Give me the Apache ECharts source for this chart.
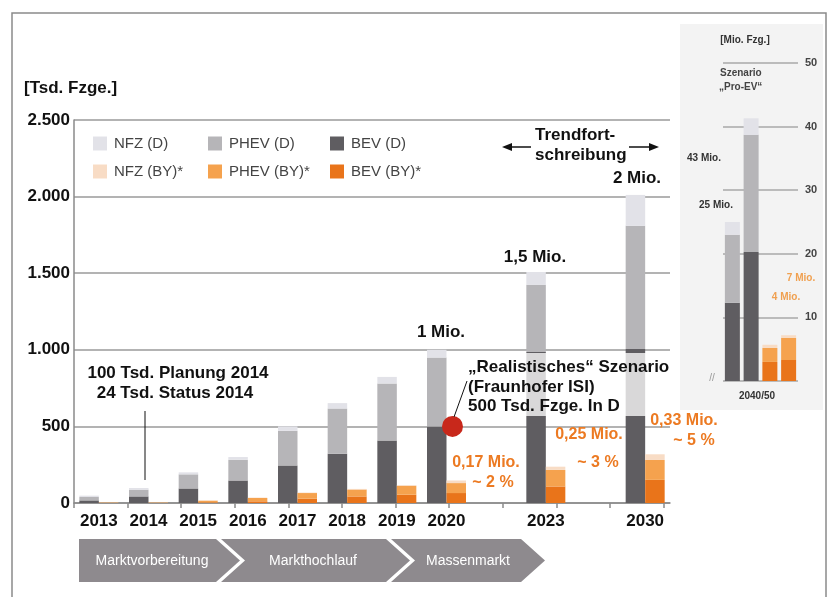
<!DOCTYPE html>
<html>
<head>
<meta charset="utf-8">
<script src="https://cdn.jsdelivr.net/npm/echarts@6/dist/echarts.min.js"></script>
<style>
  html, body { margin: 0; padding: 0; background: #fff; }
  #chart { width: 832px; height: 597px; }
</style>
</head>
<body>
<div id="chart"></div>
<script>
  // Bestand in Tsd. Fahrzeuge, D = Deutschland, BY = Bayern
  const years = ["2013", "2014", "2015", "2016", "2017", "2018", "2019", "2020", "", "2023", "", "2030"];
  const bevD = [17, 43, 95, 147, 245, 322, 408, 500, null, 985, null, 1005];
  const phevD = [22, 44, 92, 135, 226, 295, 372, 449, null, 439, null, 804];
  const nfzD = [9, 11, 13, 18, 29, 35, 43, 51, null, 84, null, 202];
  const bevBY = [0, 0, 4, 11, 28, 43, 54, 65, null, 108, null, 151];
  const phevBY = [3, 3, 11, 22, 37, 45, 58, 65, null, 108, null, 130];
  const nfzBY = [1, 1, 3, 2, 3, 4, 5, 17, null, 21, null, 37];
  const yTicks = [0, 500, 1000, 1500, 2000, 2500];

  // Szenario "Pro-EV" 2040/50, Mio. Fahrzeuge
  const insetCats = ["D1", "D2", "BY1", "BY2"];
  const insetBevD = [12.3, 20.3, null, null];
  const insetPhevD = [10.7, 18.4, null, null];
  const insetNfzD = [2, 2.6, null, null];
  const insetBevBY = [null, null, 3, 3.3];
  const insetPhevBY = [null, null, 2.2, 3.5];
  const insetNfzBY = [null, null, 0.5, 0.4];

  const colors = {
    nfzD: "#e2e2e8", phevD: "#b6b5b8", bevD: "#5f5d61",
    nfzBY: "#f8dcc5", phevBY: "#f5a24e", bevBY: "#e9741a"
  };
  const FONT = "Liberation Sans, Arial, Helvetica, sans-serif";
  const orange = "#ec7a22";

  const chart = echarts.init(document.getElementById("chart"));

  function fmt(v) {
    if (v >= 1000) return Math.floor(v / 1000) + "." + String(v % 1000).padStart(3, "0");
    return String(v);
  }

  function txt(x, y, s, size, color, opts) {
    opts = opts || {};
    return {
      type: "text", x: x, y: y, z: 100,
      style: {
        text: s,
        font: (opts.weight || "bold") + " " + size + "px " + FONT,
        fill: color,
        textAlign: opts.align || "left",
        textVerticalAlign: "middle"
      }
    };
  }

  function bar(name, data, stack, color) {
    return {
      name: name, type: "bar", stack: stack, data: data,
      barWidth: 19.5, barGap: "0%",
      itemStyle: { color: color },
      emphasis: { disabled: true }
    };
  }

  function insetBar(name, data, color) {
    return {
      name: name, type: "bar", stack: "inset", data: data,
      xAxisIndex: 2, yAxisIndex: 1, barWidth: 15,
      itemStyle: { color: color },
      emphasis: { disabled: true }
    };
  }

  function legendCol(left, names) {
    return {
      orient: "vertical", left: left, top: 131,
      itemWidth: 14, itemHeight: 14, itemGap: 13,
      icon: "rect", selectedMode: false,
      data: names,
      textStyle: { fontSize: 15, fontFamily: FONT, color: "#444", lineHeight: 14, padding: [0, 0, 0, 2] }
    };
  }

  const chevron = (pts, label, cx) => [
    { type: "polygon", z: 50, shape: { points: pts }, style: { fill: "#8e8a8e" } },
    txt(cx, 561, label, 14, "#fff", { weight: "normal", align: "center" })
  ];

  const option = {
    backgroundColor: "#fff",
    animation: false,
    legend: [
      legendCol(88, ["NFZ (D)", "NFZ (BY)*"]),
      legendCol(203, ["PHEV (D)", "PHEV (BY)*"]),
      legendCol(325, ["BEV (D)", "BEV (BY)*"])
    ],
    grid: [
      { left: 74, right: 162, top: 120, bottom: 94 },
      { left: 723, right: 34, top: 63, bottom: 216 }
    ],
    xAxis: [
      {
        type: "category", gridIndex: 0, data: years,
        axisLine: { lineStyle: { color: "#8a8a8a", width: 1.5 } },
        axisTick: { show: false },
        axisLabel: { margin: 10, fontSize: 17, fontWeight: "bold", fontFamily: FONT, color: "#111", interval: 0 }
      },
      {
        type: "value", gridIndex: 0, min: 0, max: 11.12, interval: 1, position: "bottom",
        axisLine: { show: false }, axisLabel: { show: false }, splitLine: { show: false },
        axisTick: {
          show: true, length: 5, customValues: [0, 1, 2, 3, 4, 5, 6, 7, 8, 9, 10, 11],
          lineStyle: { color: "#8a8a8a", width: 1.5 }
        }
      },
      {
        type: "category", gridIndex: 1, data: insetCats,
        axisLine: { show: false }, axisTick: { show: false }, axisLabel: { show: false }
      }
    ],
    yAxis: [
      {
        type: "value", gridIndex: 0, min: 0, max: 2500, interval: 500,
        axisLine: { show: true, lineStyle: { color: "#8a8a8a", width: 1.5 } },
        splitLine: { lineStyle: { color: "#9a9a9a", width: 1.5 } },
        axisTick: { show: false },
        axisLabel: { margin: 4, fontSize: 17, fontWeight: "bold", fontFamily: FONT, color: "#111", formatter: fmt,
          customValues: yTicks }
      },
      {
        type: "value", gridIndex: 1, min: 0, max: 50, interval: 10, position: "right",
        axisLine: { show: false }, axisTick: { show: false },
        splitLine: { lineStyle: { color: "#a8a8a8", width: 1.5 } },
        axisLabel: { margin: 7, fontSize: 11, fontWeight: "bold", fontFamily: FONT, color: "#444",
          formatter: v => (v === 0 ? "" : v) }
      }
    ],
    series: [
      bar("BEV (D)", bevD, "D", colors.bevD),
      bar("PHEV (D)", phevD, "D", colors.phevD),
      bar("NFZ (D)", nfzD, "D", colors.nfzD),
      bar("BEV (BY)*", bevBY, "BY", colors.bevBY),
      bar("PHEV (BY)*", phevBY, "BY", colors.phevBY),
      bar("NFZ (BY)*", nfzBY, "BY", colors.nfzBY),
      {
        name: "Realistisch", type: "scatter", data: [[7, 500]],
        symbolSize: 21, symbolOffset: [6, 0], z: 20,
        itemStyle: { color: "#c8281b", opacity: 1 },
        emphasis: { disabled: true }
      },
      insetBar("i-BEV (D)", insetBevD, colors.bevD),
      insetBar("i-PHEV (D)", insetPhevD, colors.phevD),
      insetBar("i-NFZ (D)", insetNfzD, colors.nfzD),
      insetBar("i-BEV (BY)", insetBevBY, colors.bevBY),
      insetBar("i-PHEV (BY)", insetPhevBY, colors.phevBY),
      insetBar("i-NFZ (BY)", insetNfzBY, colors.nfzBY)
    ],
    graphic: [
      // inset background + frame
      { type: "rect", z: -10, shape: { x: 680, y: 24, width: 143, height: 386 }, style: { fill: "#f3f3f3" } },
      { type: "rect", z: 100, shape: { x: 12, y: 13, width: 814, height: 620 }, style: { fill: "none", stroke: "#8a8a8a", lineWidth: 1.5 } },

      txt(24, 88, "[Tsd. Fzge.]", 17, "#111"),

      // white veil behind scenario text
      { type: "rect", z: 30, shape: { x: 462, y: 353, width: 212, height: 63 }, style: { fill: "rgba(255,255,255,0.76)" } },
      txt(468, 367, "\u201eRealistisches\u201c Szenario", 17, "#111"),
      txt(468, 387, "(Fraunhofer ISI)", 17, "#111"),
      txt(468, 406, "500 Tsd. Fzge. In D", 17, "#111"),
      { type: "line", z: 100, shape: { x1: 454, y1: 417, x2: 467, y2: 381 }, style: { stroke: "#111", lineWidth: 1 } },

      // 2014 note
      txt(178, 373, "100 Tsd. Planung 2014", 17, "#111", { align: "center" }),
      txt(175, 393, "24 Tsd. Status 2014", 17, "#111", { align: "center" }),
      { type: "line", z: 100, shape: { x1: 145, y1: 411, x2: 145, y2: 480 }, style: { stroke: "#111", lineWidth: 1 } },

      // totals
      txt(441, 332, "1 Mio.", 17, "#111", { align: "center" }),
      txt(535, 257, "1,5 Mio.", 17, "#111", { align: "center" }),
      txt(637, 178, "2 Mio.", 17, "#111", { align: "center" }),

      // trend arrow
      txt(535, 135, "Trendfort-", 17, "#111"),
      txt(535, 155, "schreibung", 17, "#111"),
      { type: "line", z: 100, shape: { x1: 508, y1: 147, x2: 531, y2: 147 }, style: { stroke: "#111", lineWidth: 1.5 } },
      { type: "line", z: 100, shape: { x1: 629, y1: 147, x2: 653, y2: 147 }, style: { stroke: "#111", lineWidth: 1.5 } },
      { type: "polygon", z: 100, shape: { points: [[502, 147], [512, 143], [512, 151]] }, style: { fill: "#111" } },
      { type: "polygon", z: 100, shape: { points: [[659, 147], [649, 143], [649, 151]] }, style: { fill: "#111" } },

      // orange shares
      txt(486, 463, "0,17 Mio.", 16, orange, { align: "center" }),
      txt(493, 483, "~ 2 %", 16, orange, { align: "center" }),
      txt(589, 435, "0,25 Mio.", 16, orange, { align: "center" }),
      txt(598, 463, "~ 3 %", 16, orange, { align: "center" }),
      txt(684, 421, "0,33 Mio.", 16, orange, { align: "center" }),
      txt(694, 441, "~ 5 %", 16, orange, { align: "center" }),

      // inset texts
      txt(745, 40, "[Mio. Fzg.]", 10, "#333", { align: "center" }),
      txt(720, 73, "Szenario", 10, "#444"),
      txt(719, 87, "\u201ePro-EV\u201c", 10, "#444"),
      txt(704, 158, "43 Mio.", 10, "#333", { align: "center" }),
      txt(716, 205, "25 Mio.", 10, "#333", { align: "center" }),
      txt(801, 278, "7 Mio.", 10, "#f0a050", { align: "center" }),
      txt(786, 297, "4 Mio.", 10, "#f0a050", { align: "center" }),
      txt(757, 396, "2040/50", 10, "#333", { align: "center" }),
      txt(712, 378, "//", 10, "#999", { align: "center", weight: "normal" }),

      // phases
      ...chevron([[79, 539], [216, 539], [240, 560.5], [216, 582], [79, 582]], "Marktvorbereitung", 152),
      ...chevron([[221, 539], [386, 539], [410, 560.5], [386, 582], [221, 582], [245, 560.5]], "Markthochlauf", 313),
      ...chevron([[391, 539], [521, 539], [545, 560.5], [521, 582], [391, 582], [415, 560.5]], "Massenmarkt", 468)
    ]
  };

  chart.setOption(option);
</script>
</body>
</html>
